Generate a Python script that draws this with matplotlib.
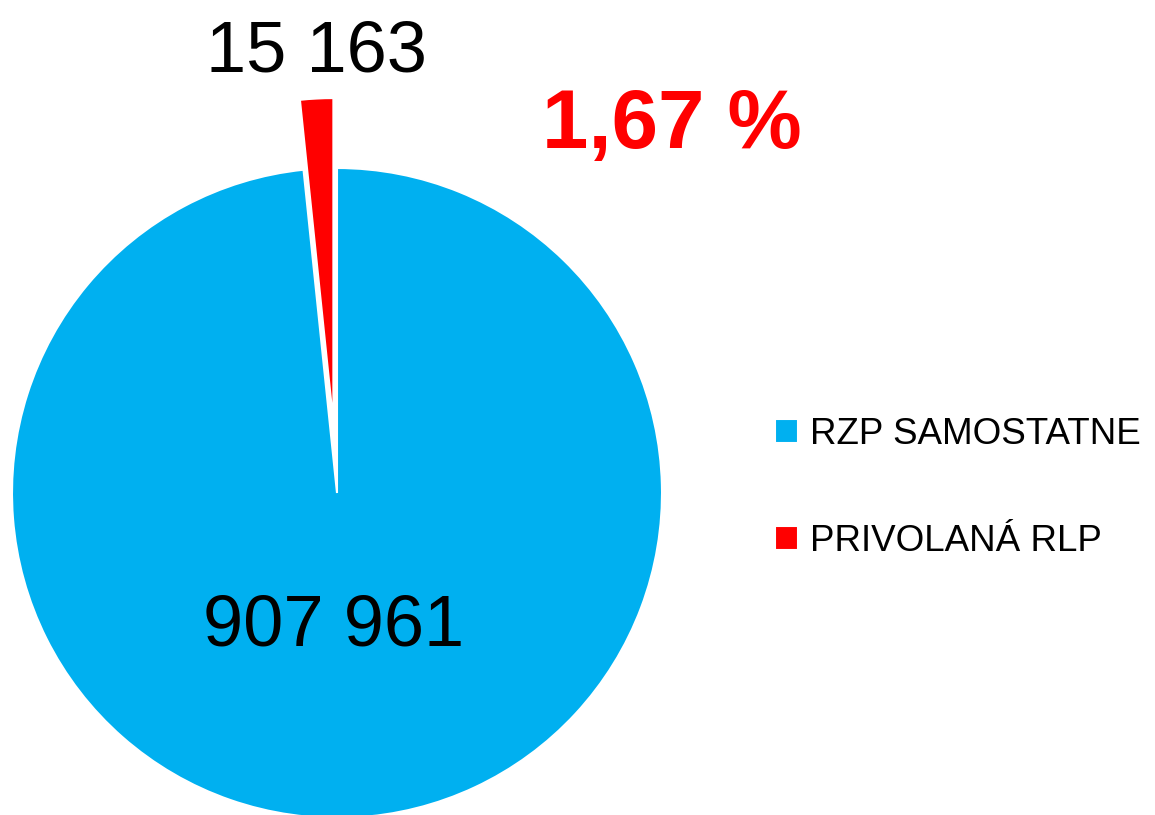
import matplotlib.pyplot as plt

# données
labels = ["RZP SAMOSTATNE", "PRIVOLANÁ RLP"]
values = [907961, 15163]
colors = ["#00B0F0", "#FF0000"]

plt.rcParams['font.family'] = ['Liberation Sans', 'DejaVu Sans']

fig = plt.figure(figsize=(11.55, 8.15), dpi=100)
ax = fig.add_axes([0, 0, 1, 1])

# pie in pixel units: centre (337, 322), radius 325
wedges, _ = ax.pie(values, colors=colors, startangle=90, counterclock=False,
                   explode=[0, 70], radius=325, center=(337, 322),
                   wedgeprops=dict(edgecolor='white', linewidth=1.5))
ax.set_xlim(0, 1155)
ax.set_ylim(0, 815)
ax.set_aspect('equal')
ax.axis('off')

def fmt(v):
    return f"{v:,}".replace(",", " ")

pct = values[1] / values[0] * 100

ax.text(334, 170, fmt(values[0]), fontsize=52, ha='center', va='baseline')
ax.text(317, 743, fmt(values[1]), fontsize=52, ha='center', va='baseline')
ax.text(672, 667, f"{pct:.2f}".replace(".", ",") + " %", fontsize=60,
        fontweight='bold', color='#FF0000', ha='center', va='baseline')

fig.legend(wedges, labels, loc='center left', bbox_to_anchor=(775 / 1155, 1 - 488 / 815),
           frameon=False, borderpad=0, borderaxespad=0, fontsize=26.5,
           handlelength=0.62, handleheight=0.62, handletextpad=0.33,
           labelspacing=1.95)

fig.savefig('out.png', dpi=100)
